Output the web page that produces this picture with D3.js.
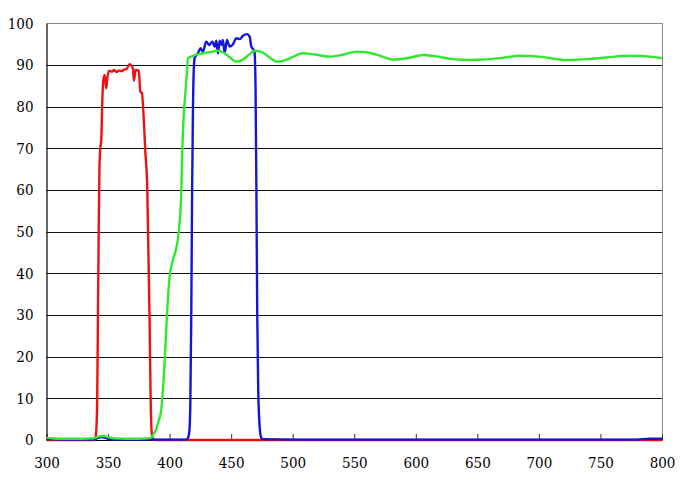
<!DOCTYPE html>
<html><head><meta charset="utf-8">
<script src="https://cdn.jsdelivr.net/npm/d3@7/dist/d3.min.js"></script>
<style>html,body{margin:0;padding:0;background:#fff;}svg{display:block;}</style>
</head><body>
<svg id="chart" width="680" height="491"></svg>
<script>
const xTicks = [300,350,400,450,500,550,600,650,700,750,800];
const yTicks = [0,10,20,30,40,50,60,70,80,90,100];

const redX = [300,320,338,339,340,340.7,341.2,341.8,342.4,343,343.7,344.5,345.2,346,347.2,348.5,349.5,350.7,353,355,357,359,361,363,365,367.5,369,370.2,371,372.4,375,376.2,377.5,378.9,380.2,381.9,383.7,384.6,385.4,386.4,388,400,500,600,700,800];
const redY = [0,0,0,0,1,4,10,30,50,65,70,72,80,86,87.6,84.4,87,88.6,88.4,88.8,88.3,88.7,88.5,88.9,89,90.2,89.8,89.2,86.2,88.8,88.6,83.6,83.3,77.6,69.6,60,29.6,10,2,0.3,0,0,0,0,0,0];

const greenX = [300,310,320,330,338,342,346,350,355,365,375,382,385,386.5,389,391,393.2,395.9,397.8,400,402.7,405.4,407.6,409.5,410.3,411.5,413,414,414.9,419,427,433,439.3,444.7,449,454.2,457,461,465,469,474,478.6,482,486.8,491,497.6,508.4,518,530,540,551.8,561.2,570,581.6,593,606,618,630.3,643.9,655,670,684.6,700,722.5,740,755,774,790,800];
const greenY = [0.5,0.3,0.3,0.3,0.4,0.8,1.0,0.7,0.4,0.3,0.3,0.4,0.6,1.2,2.5,4.5,7.2,18.4,29.6,39.2,43.2,46,50.4,60,69.6,78,84,88,91.6,92.2,92.8,93.1,93.4,92.8,91.8,90.8,90.9,91.6,92.6,93.4,93.2,92.4,91.6,90.8,90.9,91.6,92.8,92.5,92,92.4,93.2,93,92.3,91.3,91.6,92.4,92,91.4,91.2,91.3,91.7,92.2,92,91.2,91.4,91.8,92.2,92,91.6];

const blueX = [300,320,338,342,345,348,352,360,400,410,413.5,415,416,416.8,417.6,418.3,419,419.8,420.5,423,425,427,429.8,432,434.7,436.6,438,439.3,440.7,442,443.3,444.7,446.6,448.8,451.5,454.2,457,459.6,462.9,465,466.4,468.3,469,469.8,470.5,471.2,472,473,474,475.5,500,600,700,780,790,800];
const blueY = [0.2,0.1,0.1,0.5,0.7,0.5,0.1,0.1,0.1,0.1,0.1,0.5,2,8,30,60,80,90,91.8,92.8,94,93.2,95.6,94.8,95.6,94.4,95.8,92.8,95.8,94.8,96,92.8,96,94.4,95,96.4,96.2,97,97.4,96.8,94.4,93.6,93,85,60,30,12,4,1,0.2,0.1,0.1,0.1,0.1,0.3,0.3];

const svg = d3.select("#chart");
const x = d3.scaleLinear().domain([300,800]).range([46.5,662]);
const y = d3.scaleLinear().domain([0,100]).range([440,23.3]);
const font = "DejaVu Serif Condensed, DejaVu Serif, serif";

svg.append("g").selectAll("line").data(yTicks.filter(v => v > 0 && v < 100)).join("line")
  .attr("x1", x(300)).attr("x2", x(800))
  .attr("y1", d => Math.round(y(d)) + 0.5).attr("y2", d => Math.round(y(d)) + 0.5)
  .attr("stroke", "#111").attr("stroke-width", 1.1);
svg.append("line").attr("x1", x(300)).attr("x2", x(800)).attr("y1", Math.round(y(100))+0.5).attr("y2", Math.round(y(100))+0.5)
  .attr("stroke", "#888").attr("stroke-width", 1);
svg.append("line").attr("x1", Math.round(x(800))+0.5).attr("x2", Math.round(x(800))+0.5).attr("y1", y(100)).attr("y2", y(0))
  .attr("stroke", "#888").attr("stroke-width", 1);

const xa = svg.append("g").attr("transform", `translate(0,${y(0)})`)
  .call(d3.axisBottom(x).tickValues(xTicks).tickSizeInner(-6).tickSizeOuter(0).tickPadding(17).tickFormat(d3.format("d")));
xa.attr("font-family", font).attr("font-size", 15);
xa.select(".domain").attr("stroke", "#000").attr("stroke-width", 1.2);
xa.selectAll(".tick line").attr("stroke", "#333");
xa.selectAll("text").attr("fill", "#000");

const ya = svg.append("g").attr("transform", `translate(${x(300)},0)`)
  .call(d3.axisLeft(y).tickValues(yTicks).tickSize(0).tickPadding(13).tickFormat(d3.format("d")));
ya.attr("font-family", font).attr("font-size", 15);
ya.select(".domain").attr("stroke", "#000").attr("stroke-width", 1.2);
ya.selectAll("text").attr("fill", "#000");

const line = d3.line().x(d => x(d[0])).y(d => y(d[1])).curve(d3.curveMonotoneX);
const series = [
  {xs: redX, ys: redY, color: "#ee1111"},
  {xs: blueX, ys: blueY, color: "#1515d8"},
  {xs: greenX, ys: greenY, color: "#2fe82f"}
];
series.forEach(s => {
  svg.append("path").datum(s.xs.map((v,i) => [v, s.ys[i]]))
    .attr("d", line).attr("fill", "none").attr("stroke", s.color)
    .attr("stroke-width", 2.4).attr("stroke-linejoin", "round");
});
</script>
</body></html>
